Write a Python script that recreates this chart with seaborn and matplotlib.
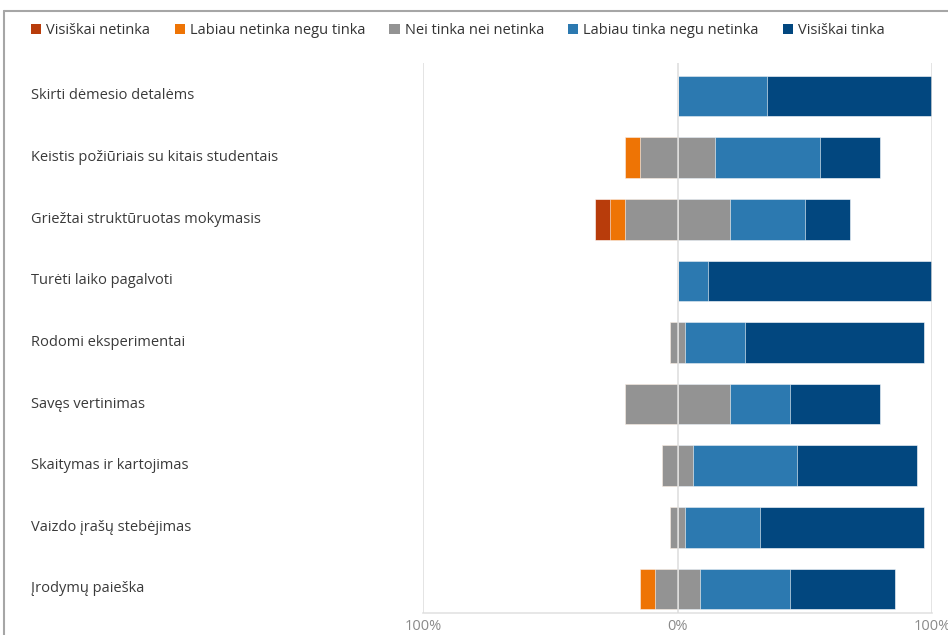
import matplotlib
matplotlib.use('Agg')
import matplotlib.pyplot as plt
import matplotlib.transforms as mtransforms
from matplotlib.patches import Patch
from matplotlib.lines import Line2D
import seaborn as sns
import pandas as pd

# Teiginiai (eilutės iš viršaus į apačią)
items = [
    'Skirti dėmesio detalėms',
    'Keistis požiūriais su kitais studentais',
    'Griežtai struktūruotas mokymasis',
    'Turėti laiko pagalvoti',
    'Rodomi eksperimentai',
    'Savęs vertinimas',
    'Skaitymas ir kartojimas',
    'Vaizdo įrašų stebėjimas',
    'Įrodymų paieška',
]

# Atsakymų dalys procentais
visiskai_netinka = [0.0, 0.0, 5.9, 0.0, 0.0, 0.0, 0.0, 0.0, 0.0]
labiau_netinka = [0.0, 5.9, 5.9, 0.0, 0.0, 0.0, 0.0, 0.0, 5.9]
nei_nei = [0.0, 29.4, 41.2, 0.0, 5.9, 41.2, 11.8, 5.9, 17.6]
labiau_tinka = [35.3, 41.2, 29.4, 11.8, 23.5, 23.5, 41.2, 29.4, 35.3]
visiskai_tinka = [64.7, 23.5, 17.6, 88.2, 70.6, 35.3, 47.1, 64.7, 41.2]

categories = ['Visiškai netinka', 'Labiau netinka negu tinka', 'Nei tinka nei netinka',
              'Labiau tinka negu netinka', 'Visiškai tinka']
colors = ['#B83C0B', '#EE7405', '#939393', '#2C79B0', '#02477F']

df = pd.DataFrame({'item': items, 'vn': visiskai_netinka, 'ln': labiau_netinka,
                   'nn': nei_nei, 'lt': labiau_tinka, 'vt': visiskai_tinka})

# Diverguojantys kraštai: neutralus dalijamas per pusę
df['g_right'] = df['nn'] / 2
df['b_right'] = df['g_right'] + df['lt']
df['d_right'] = df['b_right'] + df['vt']
df['g_left'] = -df['nn'] / 2
df['o_left'] = df['g_left'] - df['ln']
df['r_left'] = df['o_left'] - df['vn']

sns.set_theme(style='white')
plt.rcParams['font.family'] = ['Open Sans', 'DejaVu Sans']

fig = plt.figure(figsize=(9.48, 6.35), dpi=100)
ax = fig.add_axes([423 / 948, 1 - 613 / 635, (932 - 423) / 948, (613 - 63) / 635])

bar_w = 0.66
layers = [('d_right', colors[4]), ('b_right', colors[3]), ('g_right', colors[2]),
          ('r_left', colors[0]), ('o_left', colors[1]), ('g_left', colors[2])]
for col, c in layers:
    sns.barplot(data=df, x=col, y='item', color=c, orient='h', width=bar_w,
                saturation=1, edgecolor='white', linewidth=0.4, ax=ax, zorder=2)

ax.set_xlim(-100, 100)
ax.set_ylim(8.39, -0.535)
ax.set_xticks([-100, 0, 100])
ax.set_xticklabels(['100%', '0%', '100%'], fontsize=10.5, color='#8a8a8a')
ax.tick_params(axis='x', length=0, pad=4)
ax.set_yticks([])
ax.set_xlabel('')
ax.set_ylabel('')
for s in ['top', 'right', 'left']:
    ax.spines[s].set_visible(False)
ax.spines['bottom'].set_color('#e3e3e3')
ax.spines['bottom'].set_linewidth(1.2)

for xv in [-100, 0, 100]:
    ax.axvline(xv, color='#dcdcdc', linewidth=1.3, alpha=0.85, zorder=3)

# Eilučių pavadinimai kairėje
trans = mtransforms.blended_transform_factory(fig.transFigure, ax.transData)
for i, name in enumerate(items):
    ax.text(31 / 948, i, name, transform=trans, ha='left', va='center',
            fontsize=10.5, color='#3a3a3a')

# Legenda
handles = [Patch(facecolor=c, edgecolor='none') for c in colors]
fig.legend(handles, categories, loc='upper left', bbox_to_anchor=(18 / 948, 1 - 10 / 635),
           ncol=5, frameon=False, fontsize=10.5, handlelength=0.7, handleheight=0.7,
           handletextpad=0.35, columnspacing=1.65, labelcolor='#333333')

# Rėmelis
fig.add_artist(Line2D([4 / 948, 1], [1 - 11 / 635, 1 - 11 / 635], transform=fig.transFigure,
                      color='#a6a6a6', linewidth=1.5))
fig.add_artist(Line2D([4 / 948, 4 / 948], [0, 1 - 11 / 635], transform=fig.transFigure,
                      color='#a6a6a6', linewidth=1.5))

fig.savefig('out.png', dpi=100)
